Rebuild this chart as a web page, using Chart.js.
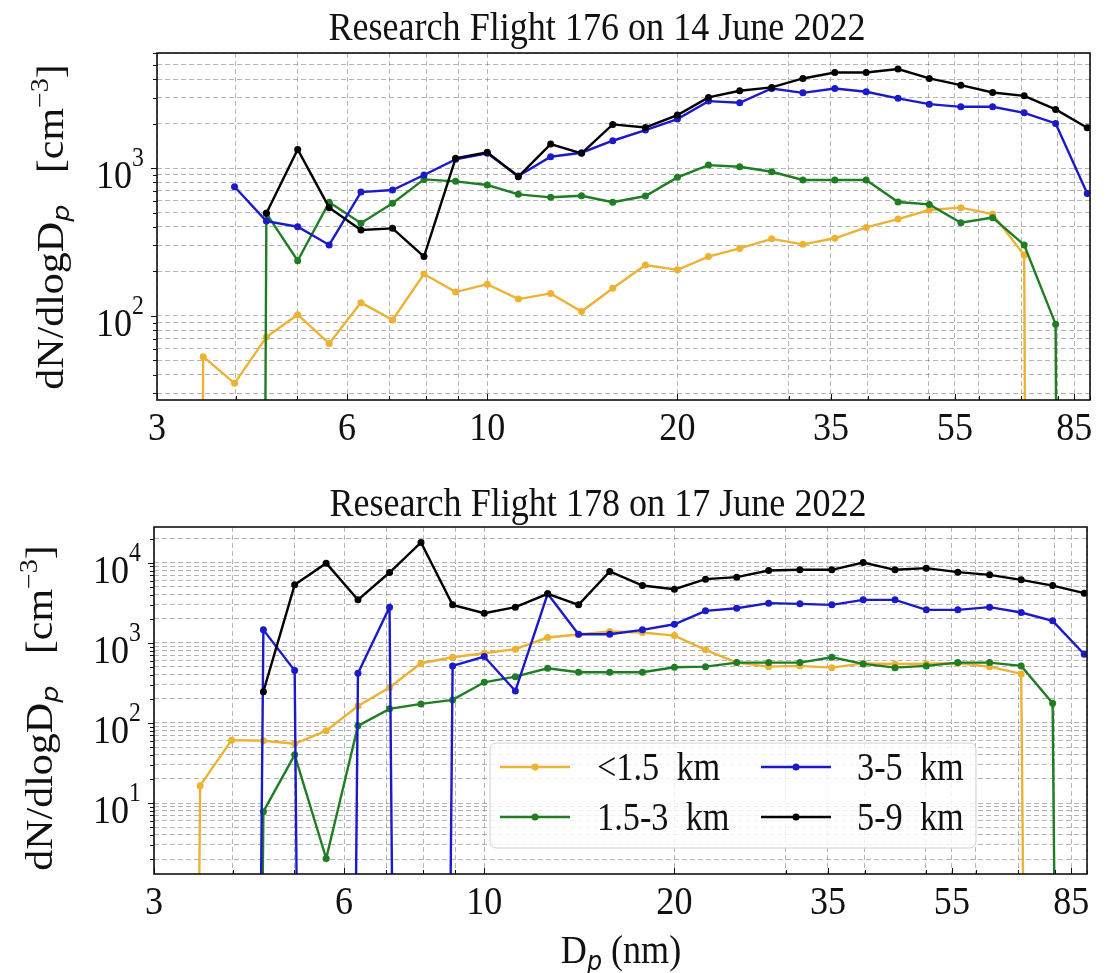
<!DOCTYPE html>
<html><head><meta charset="utf-8">
<script src="https://cdn.jsdelivr.net/npm/chart.js@4.4.1/dist/chart.umd.min.js"></script>
<style>
html,body{margin:0;padding:0;background:#fff;}
#wrap{position:relative;width:1110px;height:973px;overflow:hidden;background:#fff;}
.box{position:absolute;left:0;width:1110px;}
</style></head><body>
<div id="wrap">
<div class="box" style="top:0;height:450px"><canvas id="c1" width="1110" height="450"></canvas></div>
<div class="box" style="top:450px;height:523px"><canvas id="c2" width="1110" height="523"></canvas></div>
</div>
<script>
// ---------------- DATA ----------------
const diameters = [3.16,3.55,3.98,4.47,5.01,5.62,6.31,7.08,7.94,8.91,10.0,11.2,12.6,14.1,15.8,17.8,20.0,22.4,25.1,28.2,31.6,35.5,39.8,44.7,50.1,56.2,63.1,70.8,79.4,89.1];
const seriesLabels = ['<1.5  km','1.5-3  km','3-5  km','5-9  km'];
const titles = ['Research Flight 176 on 14 June 2022','Research Flight 178 on 17 June 2022'];

// RF176 (14 June 2022)
const rf176_below1p5 = [0,53,35,72,102,65,123,94,192,145,164,130,142,107,154,221,205,252,286,332,305,335,397,452,520,540,489,258,0,0];
const rf176_1p5to3   = [null,0,0,494,236,587,424,578,838,813,768,664,634,650,587,647,865,1047,1020,944,830,830,830,589,568,427,462,302,88,0];
const rf176_3to5     = [null,null,748,438,401,302,688,710,897,1145,1257,883,1192,1270,1530,1806,2143,2836,2762,3453,3227,3453,3280,2960,2705,2595,2595,2364,2005,674];
const rf176_5to9     = [null,null,null,494,1337,540,381,391,252,1164,1277,874,1452,1257,1973,1883,2281,3006,3334,3510,4037,4432,4432,4670,4037,3638,3245,3080,2493,1871];

// RF178 (17 June 2022)
const rf178_below1p5 = [0,16.5,61,60,55,80,163,277,557,662,743,834,1166,1271,1385,1346,1233,818,567,505,516,491,555,545,550,557,505,410,0,0];
const rf178_1p5to3   = [null,null,0,7.8,40,2.03,92,150,173,194,322,379,482,430,430,430,497,505,567,567,567,662,546,491,516,567,567,516,176,0];
const rf178_3to5     = [null,null,0,1454,451,0,418,2793,0,516,675,251,4097,1282,1282,1454,1709,2512,2712,3133,3073,2985,3447,3447,2585,2585,2793,2393,1884,722];
const rf178_5to9     = [null,null,null,246,5309,9900,3447,7568,17950,2985,2350,2793,4097,2985,7786,5200,4688,6252,6620,8014,8175,8175,10090,8175,8575,7640,7080,6131,5200,4180];

// Axis ticks
const xTickValues = [3,6,10,20,35,55,85];
const xGridValues = [3,4,5,6,7,8,9,10,20,30,35,40,50,55,60,70,80,85,90];
const yTickValuesTop = [100,1000];
const yTickValuesBottom = [10,100,1000,10000];

// ---------------- STYLE ----------------
const seriesColors = ['#EDB232','#1F7D23','#1A1AC8','#000000'];
const FONT = '"Liberation Serif","Times New Roman",serif';
const SANS = '"DejaVu Sans",sans-serif';
const SX = 0.88;            // horizontal text compression of the reference
const GRID = 'rgba(120,120,120,0.55)';
const LOG_FLOOR = 1e-40;    // zero values on a log axis fall off the bottom (clipped)

function logGrid(min, max) {
  const out = [];
  for (let e = Math.floor(Math.log10(min)); e <= Math.ceil(Math.log10(max)); e++) {
    for (let m = 1; m < 10; m++) {
      const v = m * Math.pow(10, e);
      if (v >= min * 0.999 && v <= max * 1.001) out.push(v);
    }
  }
  return out;
}
function toPoints(arr) {
  return arr.map((v, i) => ({x: diameters[i], y: v === null ? null : (v > 0 ? v : LOG_FLOOR)}));
}

function drawRuns(ctx, runs, cx, cy, rotated) {
  ctx.save();
  ctx.translate(cx, cy);
  if (rotated) { ctx.rotate(-Math.PI / 2); ctx.scale(1, SX); } else { ctx.scale(SX, 1); }
  ctx.textBaseline = 'alphabetic';
  ctx.textAlign = 'left';
  ctx.fillStyle = '#111';
  let W = 0;
  runs.forEach(r => { ctx.font = (r.italic ? 'italic ' : '') + r.size + 'px ' + (r.family || FONT); r.w = ctx.measureText(r.t).width; W += r.w; });
  let x = -W / 2;
  runs.forEach(r => { ctx.font = (r.italic ? 'italic ' : '') + r.size + 'px ' + (r.family || FONT); ctx.fillText(r.t, x, r.dy || 0); x += r.w; });
  ctx.restore();
}
function textW(ctx, s, size) { ctx.save(); ctx.font = size + 'px ' + FONT; const w = ctx.measureText(s).width * SX; ctx.restore(); return w; }
function drawText(ctx, s, x, y, size, align) {
  ctx.save(); ctx.translate(x, y); ctx.scale(SX, 1);
  ctx.font = size + 'px ' + FONT; ctx.fillStyle = '#111'; ctx.textAlign = align || 'left'; ctx.textBaseline = 'alphabetic';
  ctx.fillText(s, 0, 0); ctx.restore();
}

function makeDecor(spec) {
  return {
    id: 'decor',
    afterDraw(chart) {
      const ctx = chart.ctx, a = chart.chartArea, xs = chart.scales.x, ys = chart.scales.y;
      ctx.save();
      ctx.strokeStyle = '#111'; ctx.lineWidth = 1;
      xGridValues.forEach(v => {
        const px = Math.round(xs.getPixelForValue(v)) + 0.5;
        const len = xTickValues.includes(v) ? 6 : 4;
        ctx.beginPath(); ctx.moveTo(px, a.bottom); ctx.lineTo(px, a.bottom - len); ctx.stroke();
      });
      logGrid(spec.yMin, spec.yMax).forEach(v => {
        const py = Math.round(ys.getPixelForValue(v)) + 0.5;
        const len = spec.yTicks.includes(v) ? 6 : 4;
        ctx.beginPath(); ctx.moveTo(a.left, py); ctx.lineTo(a.left - len, py); ctx.stroke();
      });
      ctx.lineWidth = 1.6; ctx.strokeStyle = '#111';
      ctx.strokeRect(a.left, a.top, a.right - a.left, a.bottom - a.top);
      ctx.restore();

      xTickValues.forEach(v => drawText(ctx, String(v), xs.getPixelForValue(v), a.bottom + 40, 41, 'center'));
      spec.yTicks.forEach(v => {
        const py = ys.getPixelForValue(v);
        const exp = String(Math.round(Math.log10(v)));
        const right = a.left - 13;
        const supW = textW(ctx, exp, 27), baseW = textW(ctx, '10', 41);
        drawText(ctx, '10', right - supW - baseW, py + 20, 41, 'left');
        drawText(ctx, exp, right - supW, py - 2, 27, 'left');
      });
      drawText(ctx, spec.title, spec.titleX, spec.titleY, 41, 'center');
      drawRuns(ctx, [
        {t: 'dN/dlogD', size: 42},
        {t: 'p', size: 27, dy: 7, italic: true, family: SANS},
        {t: '   [cm', size: 42},
        {t: '\u22123', size: 28, dy: -17},
        {t: ']', size: 42}
      ], spec.yTitleX, spec.yTitleY, true);
      if (spec.xTitle) {
        drawRuns(ctx, [
          {t: 'D', size: 41},
          {t: 'p', size: 27, dy: 7, italic: true, family: SANS},
          {t: ' (nm)', size: 41}
        ], spec.xTitleX, spec.xTitleY, false);
      }
      if (spec.legend) {
        const L = spec.legend;
        ctx.save();
        ctx.fillStyle = 'rgba(255,255,255,0.8)';
        ctx.strokeStyle = '#cfcfcf'; ctx.lineWidth = 1;
        ctx.beginPath();
        if (ctx.roundRect) ctx.roundRect(L.x, L.y, L.w, L.h, 6); else ctx.rect(L.x, L.y, L.w, L.h);
        ctx.fill(); ctx.stroke();
        ctx.restore();
        const ds = chart.data.datasets;
        [0, 1, 2, 3].forEach((di, k) => {
          const col = Math.floor(k / 2), row = k % 2;
          const d = ds[di];
          const hx = L.handleX[col], ty = L.rowY[row];
          ctx.save();
          ctx.strokeStyle = d.borderColor; ctx.lineWidth = 2.4;
          ctx.beginPath(); ctx.moveTo(hx, ty); ctx.lineTo(hx + 70, ty); ctx.stroke();
          ctx.fillStyle = d.borderColor;
          ctx.beginPath(); ctx.arc(hx + 35, ty, 3.5, 0, Math.PI * 2); ctx.fill();
          ctx.restore();
          drawText(ctx, d.label, L.textX[col], ty + 13, 39, 'left');
        });
      }
    }
  };
}

function buildChart(id, spec, series) {
  const H = spec.H, area = spec.area;
  const datasets = series.map((arr, i) => ({
    label: seriesLabels[i],
    data: toPoints(arr),
    borderColor: seriesColors[i],
    backgroundColor: seriesColors[i],
    borderWidth: 2.4,
    pointRadius: 3.5,
    pointBorderWidth: 0,
    pointHoverRadius: 0,
    tension: 0,
    spanGaps: false,
    order: 4 - i
  }));
  return new Chart(document.getElementById(id), {
    type: 'line',
    data: {datasets},
    options: {
      responsive: false, animation: false, events: [],
      layout: {padding: {left: 0, top: area.top, right: 1110 - area.right, bottom: 0}},
      plugins: {legend: {display: false}, tooltip: {enabled: false}, title: {display: false}},
      scales: {
        x: {
          type: 'logarithmic', min: 3, max: 90, bounds: 'data',
          afterFit: s => { s.height = H - area.bottom; },
          afterBuildTicks: s => { s.ticks = xGridValues.map(v => ({value: v})); },
          ticks: {display: false},
          grid: {color: GRID, lineWidth: 1, drawTicks: false},
          border: {display: false, dash: [5, 3]}
        },
        y: {
          type: 'logarithmic', min: spec.yMin, max: spec.yMax, bounds: 'data',
          afterFit: s => { s.width = area.left; },
          afterBuildTicks: s => { s.ticks = logGrid(spec.yMin, spec.yMax).map(v => ({value: v})); },
          ticks: {display: false},
          grid: {color: GRID, lineWidth: 1, drawTicks: false},
          border: {display: false, dash: [5, 3]}
        }
      }
    },
    plugins: [makeDecor(spec)]
  });
}

buildChart('c1', {
  H: 450, area: {left: 157, right: 1090, top: 53, bottom: 400},
  yMin: 27, yMax: 6000, yTicks: yTickValuesTop,
  title: titles[0], titleX: 597, titleY: 40,
  yTitleX: 63, yTitleY: 227
}, [rf176_below1p5, rf176_1p5to3, rf176_3to5, rf176_5to9]);

buildChart('c2', {
  H: 523, area: {left: 154, right: 1087, top: 77, bottom: 424},
  yMin: 1.3, yMax: 28000, yTicks: yTickValuesBottom,
  title: titles[1], titleX: 598, titleY: 66,
  yTitleX: 52, yTitleY: 258,
  xTitle: true, xTitleX: 621, xTitleY: 513,
  legend: {x: 490, y: 293, w: 486, h: 105, handleX: [500, 761], textX: [597, 857], rowY: [317, 367]}
}, [rf178_below1p5, rf178_1p5to3, rf178_3to5, rf178_5to9]);
</script>
</body></html>
